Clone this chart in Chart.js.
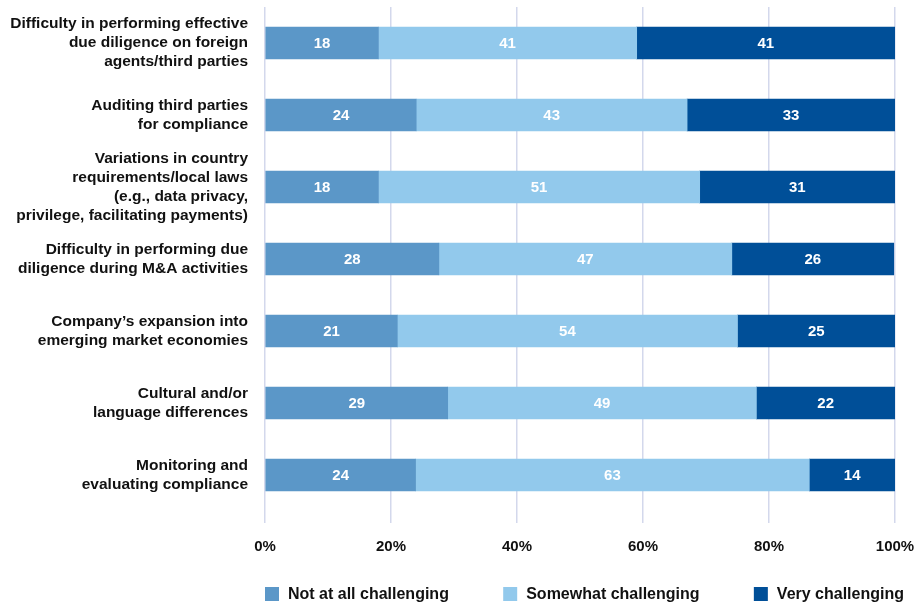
<!DOCTYPE html>
<html>
<head>
<meta charset="utf-8">
<script src="https://cdn.jsdelivr.net/npm/chart.js@4/dist/chart.umd.min.js"></script>
<style>
  html, body { margin: 0; padding: 0; background: #ffffff; }
  #wrap { width: 914px; height: 603px; position: relative; }
</style>
</head>
<body>
<div id="wrap"><canvas id="c" width="914" height="603"></canvas></div>
<script>
const categories = [
  ["Difficulty in performing effective", "due diligence on foreign", "agents/third parties"],
  ["Auditing third parties", "for compliance"],
  ["Variations in country", "requirements/local laws", "(e.g., data privacy,", "privilege, facilitating payments)"],
  ["Difficulty in performing due", "diligence during M&A activities"],
  ["Company\u2019s expansion into", "emerging market economies"],
  ["Cultural and/or", "language differences"],
  ["Monitoring and", "evaluating compliance"]
];
const seriesNames = ["Not at all challenging", "Somewhat challenging", "Very challenging"];
const notAtAll   = [18, 24, 18, 27.6, 21, 29, 23.9];
const somewhat   = [41, 43, 51, 46.5, 54, 49, 62.5];
const very       = [41, 33, 31, 25.7, 25, 22, 13.6];
const xTicks = [0, 20, 40, 60, 80, 100];
const colors = ["#5B97C8", "#92C9EC", "#004F98"];

const FONT = "'Liberation Sans', Arial, sans-serif";

const valueLabels = {
  id: 'valueLabels',
  afterDatasetsDraw(chart) {
    const ctx = chart.ctx;
    ctx.save();
    ctx.fillStyle = '#ffffff';
    ctx.font = "bold 15px " + FONT;
    ctx.textAlign = 'center';
    ctx.textBaseline = 'middle';
    chart.data.datasets.forEach((ds, di) => {
      const meta = chart.getDatasetMeta(di);
      meta.data.forEach((bar, i) => {
        const v = ds.data[i];
        const cx = (bar.x + bar.base) / 2;
        ctx.fillText(String(Math.round(v)), cx, bar.y + 1);
      });
    });
    ctx.restore();
  }
};

const customLegend = {
  id: 'customLegend',
  afterDraw(chart) {
    const ctx = chart.ctx;
    const ca = chart.chartArea;
    ctx.save();
    ctx.font = "bold 16px " + FONT;
    const box = 14, gap = 9;
    const items = chart.data.datasets.map(ds => ({
      text: ds.label,
      color: ds.backgroundColor,
      w: box + gap + ctx.measureText(ds.label).width
    }));
    const startX = ca.left;
    const endX = chart.width - 10;
    const total = items.reduce((s, it) => s + it.w, 0);
    const spacing = (endX - startX - total) / (items.length - 1);
    const cy = chart.height - 9;
    let x = startX;
    items.forEach(it => {
      ctx.fillStyle = it.color;
      ctx.fillRect(x, cy - 7, box, box);
      ctx.fillStyle = '#111111';
      ctx.textBaseline = 'middle';
      ctx.textAlign = 'left';
      ctx.fillText(it.text, x + box + gap, cy + 1);
      x += it.w + spacing;
    });
    ctx.restore();
  }
};

new Chart(document.getElementById('c'), {
  type: 'bar',
  data: {
    labels: categories,
    datasets: [
      { label: seriesNames[0], data: notAtAll, backgroundColor: colors[0] },
      { label: seriesNames[1], data: somewhat, backgroundColor: colors[1] },
      { label: seriesNames[2], data: very, backgroundColor: colors[2] }
    ]
  },
  options: {
    indexAxis: 'y',
    responsive: false,
    animation: false,
    maintainAspectRatio: false,
    layout: { padding: { top: 7, right: 19, left: 0, bottom: 0 } },
    datasets: { bar: { barThickness: 32, borderWidth: 0 } },
    scales: {
      x: {
        stacked: true,
        min: 0, max: 100,
        afterBuildTicks(scale) { scale.ticks = xTicks.map(v => ({ value: v })); },
        border: { display: false },
        grid: { color: '#D3D8EC', lineWidth: 1.5, drawTicks: true, tickLength: 12, tickColor: '#D3D8EC' },
        ticks: {
          padding: 15,
          color: '#111111',
          font: { family: FONT, size: 15, weight: 'bold', lineHeight: 1.2 },
          callback: v => v + '%'
        },
        afterFit(scale) {
          scale.height = 92;
          scale.paddingLeft = 0; scale.paddingRight = 0;
        }
      },
      y: {
        stacked: true,
        border: { display: false },
        grid: { display: false, drawTicks: false },
        ticks: {
          autoSkip: false,
          padding: 17,
          color: '#111111',
          font: { family: FONT, size: 15.5, weight: 'bold', lineHeight: 1.226 }
        },
        afterFit(scale) {
          scale.width = 265;
          scale.paddingTop = 0; scale.paddingBottom = 0;
        }
      }
    },
    plugins: {
      legend: { display: false },
      tooltip: { enabled: false }
    }
  },
  plugins: [valueLabels, customLegend]
});
</script>
</body>
</html>
